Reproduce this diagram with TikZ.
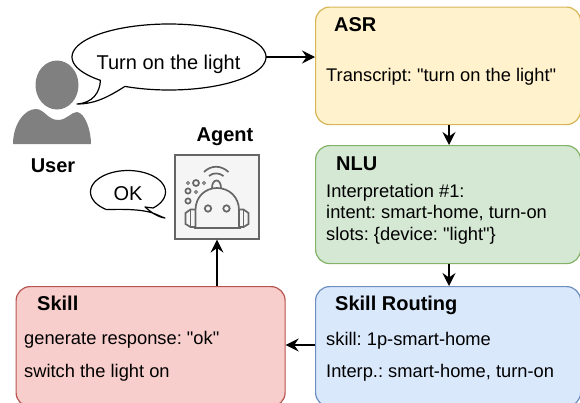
\documentclass[tikz,border=0pt]{standalone}
\usepackage{fontspec}
\setmainfont{Liberation Sans}[Ligatures=TeXOff]
\frenchspacing
\usetikzlibrary{arrows.meta,shapes.geometric}
\definecolor{asrfill}{HTML}{FFF2CC}\definecolor{asrline}{HTML}{D6B656}
\definecolor{nlufill}{HTML}{D5E8D4}\definecolor{nluline}{HTML}{82B366}
\definecolor{srfill}{HTML}{DAE8FC}\definecolor{srline}{HTML}{6C8EBF}
\definecolor{skfill}{HTML}{F8CECC}\definecolor{skline}{HTML}{B85450}
\definecolor{icon}{HTML}{666666}\definecolor{iconbg}{HTML}{F5F5F5}
\definecolor{person}{HTML}{808080}
\tikzset{
 panel/.style={draw=#1,line width=1.2pt,rounded corners=14pt,anchor=north west,inner sep=0pt},
 conn/.style={line width=1.2pt,-{Stealth[length=13pt,width=13pt,inset=4.5pt]}},
 txt/.style={anchor=base west,inner sep=0pt,font=\fontsize{18.3}{20}\selectfont},
 saytxt/.style={anchor=base,inner sep=0pt,font=\fontsize{20}{22}\selectfont},
 head/.style={anchor=base west,inner sep=0pt,font=\fontsize{20}{22}\selectfont\bfseries},
 bubbleline/.style={draw=black,fill=white,line width=1.2pt,line join=round},
 robot/.style={draw=icon,line width=1.7pt,fill=none},
}
\begin{document}
\begin{tikzpicture}[x=1pt,y=-1pt]
\useasboundingbox (0,0) rectangle (580,402);
\clip (0,0) rectangle (580,402);
% panels
\node[panel=asrline,fill=asrfill,minimum width=265pt,minimum height=117.5pt] (asr) at (315,6.5) {};
\node[panel=nluline,fill=nlufill,minimum width=265pt,minimum height=118pt] (nlu) at (315,145) {};
\node[panel=srline,fill=srfill,minimum width=265pt,minimum height=120pt] (routing) at (315,286) {};
\node[panel=skline,fill=skfill,minimum width=269pt,minimum height=120pt] (skill) at (15.5,286) {};
\node[draw=icon,fill=iconbg,line width=1.2pt,minimum size=84pt,inner sep=0pt] (agent) at (217,197) {};
% user
\fill[person] (57,85) ellipse[x radius=21.5,y radius=24.5];
\fill[person] (13,144) .. controls (13,125) and (24,109) .. (36,109)
 .. controls (44,109) and (48,120) .. (58,120)
 .. controls (67,120) and (71,112) .. (77,112)
 .. controls (85,113) and (91,130) .. (91,144) -- cycle;
% speech bubbles
\node[ellipse,minimum width=194pt,minimum height=66pt,inner sep=0pt] (say) at (169,57) {};
\draw[bubbleline] plot[domain=117:-225,samples=90,smooth] ({169+97*cos(\x)},{57+33*sin(\x)})
 .. controls (100,92) and (93,103) .. (77,104) .. controls (95,104) and (108,97) .. (124,87) -- cycle;
\node[saytxt] at (168.5,69) {Turn on the light};
\draw[bubbleline] plot[domain=48:-235,samples=70,smooth] ({128+37.5*cos(\x)},{192+21.5*sin(\x)})
 .. controls (153,208) and (155,215) .. (165,218) .. controls (157,217) and (151,212) .. (145,207) -- cycle;
\node[saytxt] at (128,200) {OK};
% labels for actors
\node[head,anchor=base] at (53,172.5) {User};
\node[head,anchor=base] at (225,141.7) {Agent};
% robot icon
\draw[robot,line join=round] (193.5,228) -- (240.5,228);
\draw[robot] (195.5,228) -- (195.5,210) .. controls (195.5,197) and (205,188) .. (217,188)
 .. controls (229,188) and (239,197) .. (239,210) -- (239,228);
\draw[robot] (208,208.5) circle[radius=3.2];
\draw[robot] (226.5,208.5) circle[radius=3.2];
\draw[robot] (195,209.5) -- (190.5,209.5) -- (185.5,213) -- (185.5,224) -- (190.5,227) -- (195,227);
\draw[robot] (190.5,209.5) -- (190.5,227);
\draw[robot] (239.5,209.5) -- (243.5,209.5) -- (248.5,213) -- (248.5,224) -- (243.5,227) -- (239.5,227);
\draw[robot] (243.5,209.5) -- (243.5,227);
\draw[robot] (212,188) .. controls (212,178) and (221,178) .. (221,188);
\draw[robot] (209,176) .. controls (213,172.5) and (219,172.5) .. (223.5,176);
\draw[robot] (204,172) .. controls (211,165) and (221,165) .. (228.5,172);
\draw[robot] (196,183) circle[radius=3];
\draw[robot,line width=1pt] (188,183) circle[radius=1.5];
\draw[robot,line width=1pt] (204,183) circle[radius=1.5];
\draw[robot] (188,191) circle[radius=2.6];
\draw[robot,line width=1pt] (196,192) circle[radius=1.5];
\draw[robot] (188,201) circle[radius=2.6];
% panel text
\node[head] at (334,31) {ASR};
\node[txt] at (326,81) {Transcript: "turn on the light"};
\node[head] at (336,170) {NLU};
\node[txt] at (326,197) {Interpretation \#1:};
\node[txt] at (326,218) {intent: smart-home, turn-on};
\node[txt] at (326,240) {slots: \{device: "light"\}};
\node[head] at (335,310) {Skill Routing};
\node[txt] at (326,345) {skill: 1p-smart-home};
\node[txt] at (326,377) {Interp.: smart-home, turn-on};
\node[head] at (37,310) {Skill};
\node[txt] at (24,344) {generate response: "ok"};
\node[txt] at (24,377) {switch the light on};
% connectors
\draw[conn] (say.east) -- (say.east -| asr.west);
\draw[conn] (asr.south -| 449,0) -- (nlu.north -| 449,0);
\draw[conn] (nlu.south -| 449,0) -- (routing.north -| 449,0);
\coordinate (rout) at (315,345);
\draw[conn] (rout) -- (rout -| skill.east);
\draw[conn] (skill.north -| agent.south) -- (agent.south);
\end{tikzpicture}
\end{document}
